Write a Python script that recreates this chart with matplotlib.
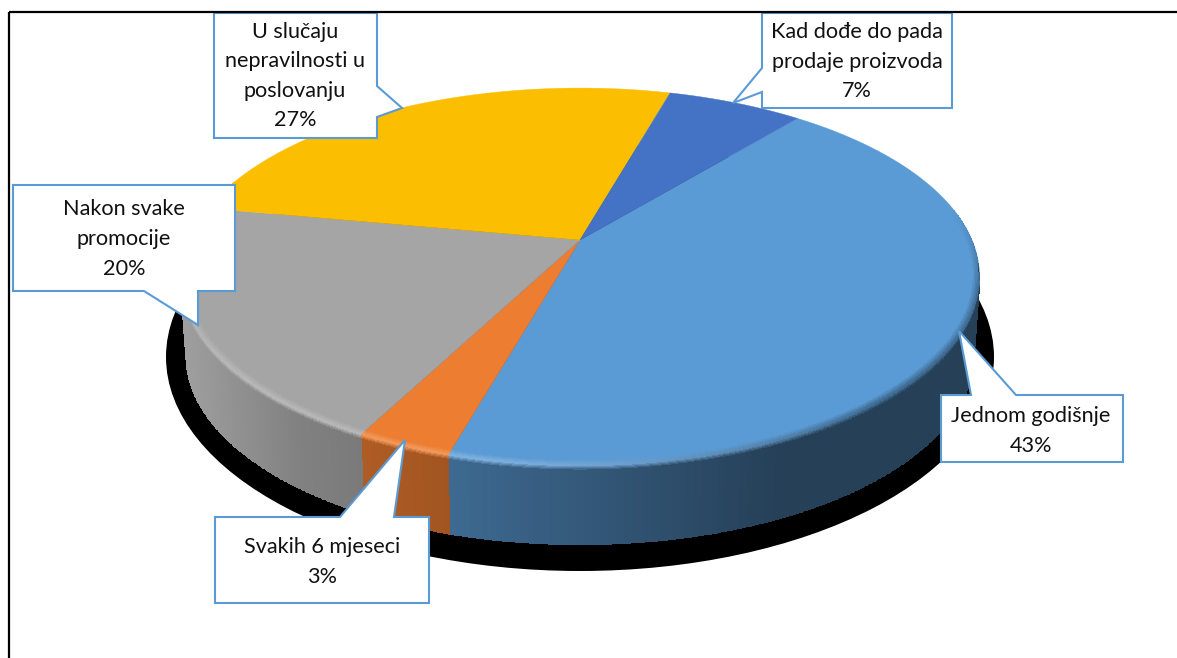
import numpy as np
import matplotlib
matplotlib.use('Agg')
import matplotlib.pyplot as plt
from matplotlib.patches import Ellipse, Polygon

# podaci iz slike (kazaljke na satu, od pocetnog kuta)
categories = ['Jednom godišnje', 'Svakih 6 mjeseci', 'Nakon svake\npromocije',
              'U slučaju\nnepravilnosti u\nposlovanju', 'Kad dođe do pada\nprodaje proizvoda']
shares = [43.4, 3.25, 20.25, 26.5, 6.6]
pct_labels = ['43%', '3%', '20%', '27%', '7%']
colors = ['#5B9BD5', '#ED7D31', '#A5A5A5', '#FBBE00', '#4472C4']

# oblacici u pikselima: obrub s repom, centar teksta
callouts = [
    [(941, 395), (971, 395), (959, 331), (1016, 395), (1123, 395), (1123, 462), (941, 462)],
    [(215, 517), (340, 517), (405, 440), (394, 517), (429, 517), (429, 603), (215, 603)],
    [(13, 185), (235, 185), (235, 291), (198, 291), (198, 325), (144, 291), (13, 291)],
    [(214, 13), (377, 13), (377, 86), (402, 108), (377, 117), (377, 138), (214, 138)],
    [(762, 13), (952, 13), (952, 108), (762, 108), (762, 92), (733, 103), (762, 68)],
]
text_pos = [(1031, 431), (322, 562), (124, 239), (295, 76), (857, 61.5)]

START = 39.6
CX, CY = 580, 240
RX, RY, K = 392, 181.4, 0.194
DEPTH, SHRINK = 80, 0.015


def pie_xy(theta, r=1.0, z=0.0):
    t = np.radians(theta)
    u, v = r * np.sin(t), r * np.cos(t)
    w = 1 + K * v
    return CX + RX * u / w * (1 - SHRINK * z), CY - RY * v / w + DEPTH * z


def side_mult(x):
    return np.interp(x, [185, 300, 360, 450, 780, 980], [0.96, 0.78, 0.74, 0.68, 0.41, 0.41])


def rgb(c):
    return np.array(matplotlib.colors.to_rgb(c))


def highlight(theta):
    return np.interp(theta, [140, 190, 235, 265, 300], [0, 1, 1, 0.45, 0.3])


def draw_band(ax, th, rr, zz, shades):
    # shades: lista boja po prstenu, svaka (len(th)-1, 3)
    T, R = np.meshgrid(th, rr)
    Z = np.broadcast_to(np.array(zz)[:, None], T.shape)
    X, Y = pie_xy(T, R, Z)
    ax.pcolormesh(X, Y, np.array(shades), shading='flat', zorder=5)


fig = plt.figure(figsize=(11.77, 6.58), dpi=100)
ax = fig.add_axes([0, 0, 1, 1])
ax.set_xlim(0, 1177)
ax.set_ylim(658, 0)
ax.axis('off')
plt.rcParams['font.family'] = ['Lato', 'DejaVu Sans']

# crna sjena ispod
ax.add_patch(Ellipse((580, 357), 828, 428, fc='black', ec='none', zorder=1))

edges = START + np.cumsum([0] + shares) * 3.6

# bocna strana
for i, col in enumerate(colors):
    a2, b2 = max(edges[i], 92), min(edges[i + 1], 268)
    if b2 <= a2:
        continue
    th = np.linspace(a2, b2, int((b2 - a2) * 4) + 2)
    tc = (th[:-1] + th[1:]) / 2
    x = pie_xy(tc, 1.0, 0.5)[0]
    shade = rgb(col)[None, :] * side_mult(x)[:, None]
    T, Z = np.meshgrid(th, [0.0, 1.0])
    X, Y = pie_xy(T, 1.0, Z)
    ax.pcolormesh(X, Y, shade[None, :, :], shading='flat', zorder=3)

# gornja ploha
for i, col in enumerate(colors):
    th = np.linspace(edges[i], edges[i + 1], 200)
    x, y = pie_xy(th)
    ax.add_patch(Polygon(np.r_[[[CX, CY]], np.c_[x, y]], closed=True, fc=col, ec=col, lw=0.3, zorder=4))

# rub: unutarnji dio na plohi, vanjski na boku
n_in, n_out = 7, 6
r_in = np.linspace(0.98, 1.0, n_in)
z_out = np.linspace(0.0, 0.07, n_out)
for i, col in enumerate(colors):
    a, b = edges[i], edges[i + 1]
    base = rgb(col)

    a2, b2 = max(a, 80), min(b, 290)
    if b2 > a2:
        th = np.linspace(a2, b2, int((b2 - a2) * 4) + 2)
        tc = (th[:-1] + th[1:]) / 2
        h = highlight(tc)[:, None]
        side = base[None, :] * side_mult(pie_xy(tc)[0])[:, None]
        rim = (1 - h) * (0.5 * base + 0.5 * side) + h * (0.8 * base + 0.2)
        fade = np.interp(tc, [80, 105, 262, 290], [0, 1, 1, 0.4])[:, None]
        rim = fade * rim + (1 - fade) * base
        draw_band(ax, th, r_in, np.zeros(n_in),
                  [(1 - s) * base + s * rim for s in np.linspace(0, 1, n_in - 1)])

    a2, b2 = max(a, 96), min(b, 264)
    if b2 > a2:
        th = np.linspace(a2, b2, int((b2 - a2) * 4) + 2)
        tc = (th[:-1] + th[1:]) / 2
        h = highlight(tc)[:, None]
        side = base[None, :] * side_mult(pie_xy(tc)[0])[:, None]
        rim = (1 - h) * (0.5 * base + 0.5 * side) + h * (0.8 * base + 0.2)
        draw_band(ax, th, np.ones(n_out), z_out,
                  [(1 - s) * rim + s * side for s in np.linspace(0, 1, n_out - 1)])

# oblacici s oznakama
for i, pts in enumerate(callouts):
    ax.add_patch(Polygon(pts, closed=True, fc='white', ec='#5B9BD5', lw=1.5, joinstyle='miter', zorder=6))
    ax.text(text_pos[i][0], text_pos[i][1], categories[i] + '\n' + pct_labels[i], ha='center', va='center',
            fontsize=15.6, color='#111111', linespacing=1.6, zorder=7)

# okvir
ax.plot([9, 9], [658, 12], color='black', lw=1.6, zorder=8, solid_capstyle='butt')
ax.plot([9, 1177], [12, 12], color='black', lw=1.6, zorder=8, solid_capstyle='butt')

fig.savefig('out.png', dpi=100)
